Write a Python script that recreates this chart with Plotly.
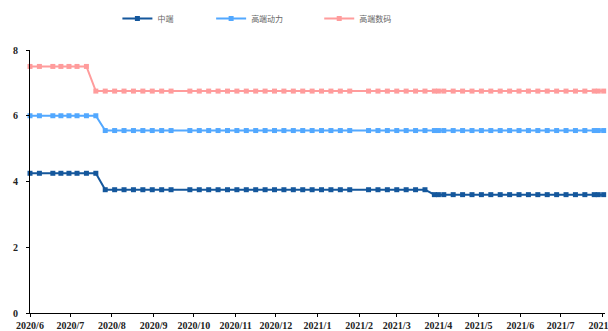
import plotly.graph_objects as go

dates = [
    "2020-06-01", "2020-06-08", "2020-06-18", "2020-06-24", "2020-06-30", "2020-07-06",
    "2020-07-13", "2020-07-20", "2020-07-27", "2020-08-03", "2020-08-10", "2020-08-17",
    "2020-08-24", "2020-08-31", "2020-09-07", "2020-09-14", "2020-09-28", "2020-10-05",
    "2020-10-12", "2020-10-19", "2020-10-26", "2020-11-02", "2020-11-09", "2020-11-16",
    "2020-11-23", "2020-11-30", "2020-12-07", "2020-12-14", "2020-12-21", "2020-12-28",
    "2021-01-04", "2021-01-11", "2021-01-18", "2021-01-25", "2021-02-08", "2021-02-15",
    "2021-02-22", "2021-03-01", "2021-03-08", "2021-03-15", "2021-03-22", "2021-03-29",
    "2021-04-01", "2021-04-05", "2021-04-12", "2021-04-19", "2021-04-26", "2021-05-03",
    "2021-05-10", "2021-05-17", "2021-05-24", "2021-05-31", "2021-06-07", "2021-06-14",
    "2021-06-21", "2021-06-28", "2021-07-05", "2021-07-12", "2021-07-19", "2021-07-26",
    "2021-07-29", "2021-08-02",
]

mid = [
    4.25, 4.25, 4.25, 4.25, 4.25, 4.25, 4.25, 4.25, 3.75, 3.75, 3.75, 3.75,
    3.75, 3.75, 3.75, 3.75, 3.75, 3.75, 3.75, 3.75, 3.75, 3.75, 3.75, 3.75,
    3.75, 3.75, 3.75, 3.75, 3.75, 3.75, 3.75, 3.75, 3.75, 3.75, 3.75, 3.75,
    3.75, 3.75, 3.75, 3.75, 3.75, 3.6, 3.6, 3.6, 3.6, 3.6, 3.6, 3.6,
    3.6, 3.6, 3.6, 3.6, 3.6, 3.6, 3.6, 3.6, 3.6, 3.6, 3.6, 3.6,
    3.6, 3.6,
]

high_power = [
    6.0, 6.0, 6.0, 6.0, 6.0, 6.0, 6.0, 6.0, 5.55, 5.55, 5.55, 5.55,
    5.55, 5.55, 5.55, 5.55, 5.55, 5.55, 5.55, 5.55, 5.55, 5.55, 5.55, 5.55,
    5.55, 5.55, 5.55, 5.55, 5.55, 5.55, 5.55, 5.55, 5.55, 5.55, 5.55, 5.55,
    5.55, 5.55, 5.55, 5.55, 5.55, 5.55, 5.55, 5.55, 5.55, 5.55, 5.55, 5.55,
    5.55, 5.55, 5.55, 5.55, 5.55, 5.55, 5.55, 5.55, 5.55, 5.55, 5.55, 5.55,
    5.55, 5.55,
]

high_digital = [
    7.5, 7.5, 7.5, 7.5, 7.5, 7.5, 7.5, 6.75, 6.75, 6.75, 6.75, 6.75,
    6.75, 6.75, 6.75, 6.75, 6.75, 6.75, 6.75, 6.75, 6.75, 6.75, 6.75, 6.75,
    6.75, 6.75, 6.75, 6.75, 6.75, 6.75, 6.75, 6.75, 6.75, 6.75, 6.75, 6.75,
    6.75, 6.75, 6.75, 6.75, 6.75, 6.75, 6.75, 6.75, 6.75, 6.75, 6.75, 6.75,
    6.75, 6.75, 6.75, 6.75, 6.75, 6.75, 6.75, 6.75, 6.75, 6.75, 6.75, 6.75,
    6.75, 6.75,
]

series_names = ["中端", "高端动力", "高端数码"]
series_values = [mid, high_power, high_digital]
colors = ["#14579C", "#52A8FF", "#FF9C9C"]
legend_ids = ["legend", "legend2", "legend3"]
legend_x = [0.152, 0.315, 0.503]

tick_vals = [
    "2020-06-01", "2020-07-01", "2020-08-01", "2020-09-01", "2020-10-01", "2020-11-01",
    "2020-12-01", "2021-01-01", "2021-02-01", "2021-03-01", "2021-04-01", "2021-05-01",
    "2021-06-01", "2021-07-01", "2021-08-01",
]
tick_text = [
    "2020/6", "2020/7", "2020/8", "2020/9", "2020/10", "2020/11", "2020/12",
    "2021/1", "2021/2", "2021/3", "2021/4", "2021/5", "2021/6", "2021/7", "2021/8",
]

fig = go.Figure()
for name, vals, col, lid in zip(series_names, series_values, colors, legend_ids):
    fig.add_trace(go.Scatter(
        x=dates, y=vals, name=name, mode="lines+markers",
        line=dict(color=col, width=2),
        marker=dict(symbol="square", size=5, color=col),
        cliponaxis=False, legend=lid,
    ))

tickfont = dict(family="Liberation Serif, Times New Roman, serif", size=10,
                color="#222222", weight="bold")

legend_common = dict(
    orientation="h", xanchor="left", y=1.12, yanchor="middle",
    font=dict(family="Noto Sans CJK SC", size=8, color="#666666"),
    bgcolor="rgba(0,0,0,0)",
)
layout_legends = {}
for lid, lx in zip(legend_ids, legend_x):
    layout_legends[lid] = dict(legend_common, x=lx)

fig.update_layout(
    width=608, height=331,
    margin=dict(l=30, r=3, t=50, b=18, autoexpand=False),
    paper_bgcolor="white", plot_bgcolor="white",
    showlegend=True,
    **layout_legends,
    xaxis=dict(
        type="date", range=["2020-06-01", "2021-08-03"],
        tickvals=tick_vals, ticktext=tick_text,
        showgrid=False, zeroline=False,
        showline=True, linecolor="#000000", linewidth=1,
        ticks="outside", ticklen=3, tickcolor="#000000",
        tickfont=tickfont, ticklabeloverflow="allow", automargin=False,
    ),
    yaxis=dict(
        range=[0, 8], dtick=2, tick0=0,
        showgrid=False, zeroline=False,
        showline=True, linecolor="#000000", linewidth=1,
        ticks="outside", ticklen=3, tickcolor="#000000",
        tickfont=tickfont, ticklabelstandoff=6, automargin=False,
    ),
)

fig.write_html("out.html")
